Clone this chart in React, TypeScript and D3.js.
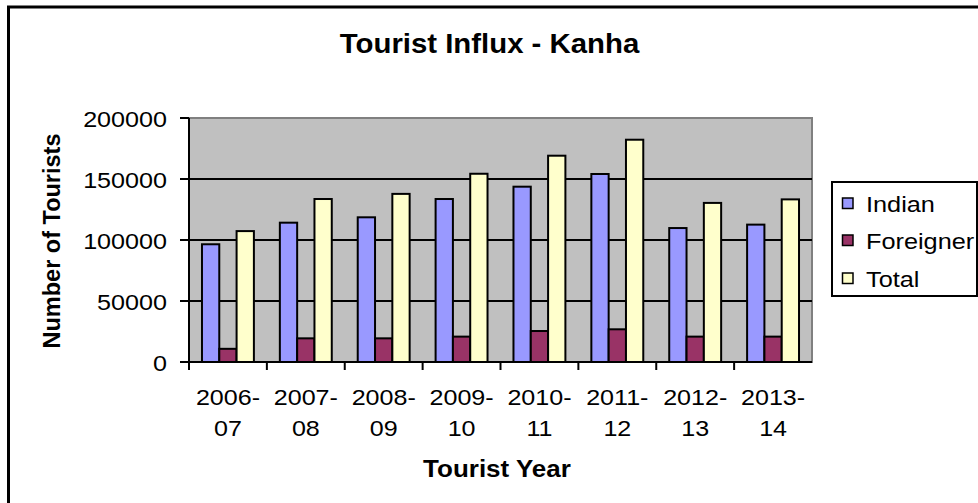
import React from "react";
import * as d3 from "d3";

const categories = ["2006-07", "2007-08", "2008-09", "2009-10", "2010-11", "2011-12", "2012-13", "2013-14"];
const indian = [96500, 114200, 118600, 133600, 143700, 154100, 109800, 112600];
const foreigner = [10800, 19400, 19400, 20800, 25400, 26800, 20800, 20800];
const total = [107300, 133600, 137800, 154300, 169100, 182200, 130400, 133300];
const yTicks = [0, 50000, 100000, 150000, 200000];
const seriesNames = ["Indian", "Foreigner", "Total"];
const seriesColors = ["#9999FF", "#993366", "#FFFFCC"];

const FONT = "Liberation Sans, Arial, sans-serif";

function SText({ x, y, size, anchor = "start", weight = "normal", sx = 1, rotate = 0, children }: any) {
  return (
    <text
      transform={`translate(${x},${y}) rotate(${rotate}) scale(${sx},1)`}
      fontSize={size}
      fontFamily={FONT}
      fontWeight={weight}
      textAnchor={anchor}
      fill="#000"
    >
      {children}
    </text>
  );
}

export default function App() {
  const W = 978, H = 503;
  const plot = { left: 189, right: 812, top: 118, bottom: 362 };
  const series = [indian, foreigner, total];

  const x0 = d3.scaleBand<string>().domain(categories).range([plot.left, plot.right]).paddingInner(0).paddingOuter(0);
  const x1 = d3.scaleBand<string>().domain(seriesNames).range([0, x0.bandwidth()]).paddingInner(0).paddingOuter(0.75);
  const y = d3.scaleLinear().domain([0, 200000]).range([plot.bottom, plot.top]);

  const bars: any[] = [];
  categories.forEach((c, i) => {
    series.forEach((s, j) => {
      const bx = (x0(c) as number) + (x1(seriesNames[j]) as number);
      bars.push(
        <rect
          key={`${c}-${j}`}
          x={bx}
          y={y(s[i])}
          width={x1.bandwidth()}
          height={plot.bottom - y(s[i])}
          fill={seriesColors[j]}
          stroke="#000"
          strokeWidth={2}
        />
      );
    });
  });

  const legendY = [204, 241, 279];

  return (
    <div style={{ position: "absolute", left: 0, top: 0 }}>
      <svg width={W} height={H} style={{ display: "block", background: "#fff" }}>
        <rect x={8.5} y={7} width={1000} height={520} fill="#fff" stroke="#000" strokeWidth={3} />
        <SText x={489.5} y={53} size={28.5} weight="bold" anchor="middle" sx={1.03}>
          Tourist Influx - Kanha
        </SText>

        <rect x={plot.left} y={plot.top} width={plot.right - plot.left} height={plot.bottom - plot.top} fill="#C0C0C0" stroke="#808080" strokeWidth={2} />
        {yTicks.filter((t) => t > 0 && t < 200000).map((t) => (
          <line key={t} x1={plot.left} x2={plot.right} y1={y(t)} y2={y(t)} stroke="#000" strokeWidth={1.8} />
        ))}
        {bars}

        <line x1={plot.left} x2={plot.left} y1={plot.top} y2={plot.bottom} stroke="#000" strokeWidth={2} />
        <line x1={plot.left} x2={plot.right} y1={plot.bottom} y2={plot.bottom} stroke="#000" strokeWidth={2} />
        {yTicks.map((t) => (
          <g key={t}>
            <line x1={180} x2={plot.left} y1={y(t)} y2={y(t)} stroke="#000" strokeWidth={2} />
            <SText x={167} y={y(t) + 8.5} size={21.5} anchor="end" sx={1.17}>
              {String(t)}
            </SText>
          </g>
        ))}
        {categories.map((c) => (
          <line key={c} x1={x0(c) as number} x2={x0(c) as number} y1={plot.bottom} y2={plot.bottom + 8} stroke="#000" strokeWidth={2} />
        ))}
        {categories.map((c) => {
          const cx = (x0(c) as number) + x0.bandwidth() / 2;
          const [a, b] = c.split("-");
          return (
            <g key={c}>
              <SText x={cx} y={405} size={22} anchor="middle" sx={1.14}>
                {a + "-"}
              </SText>
              <SText x={cx} y={436} size={22} anchor="middle" sx={1.14}>
                {b}
              </SText>
            </g>
          );
        })}

        <SText x={497} y={477} size={23} weight="bold" anchor="middle" sx={1.13}>
          Tourist Year
        </SText>
        <SText x={60} y={241} size={23.5} weight="bold" anchor="middle" rotate={-90}>
          Number of Tourists
        </SText>

        <rect x={832} y={182} width={145} height={114} fill="#fff" stroke="#000" strokeWidth={2} />
        {seriesNames.map((n, j) => (
          <g key={n}>
            <rect x={842.5} y={legendY[j] - 6} width={10.5} height={10.5} fill={seriesColors[j]} stroke="#000" strokeWidth={1.5} />
            <SText x={866} y={legendY[j] + 7.5} size={22} sx={1.15}>
              {n}
            </SText>
          </g>
        ))}
      </svg>
    </div>
  );
}
